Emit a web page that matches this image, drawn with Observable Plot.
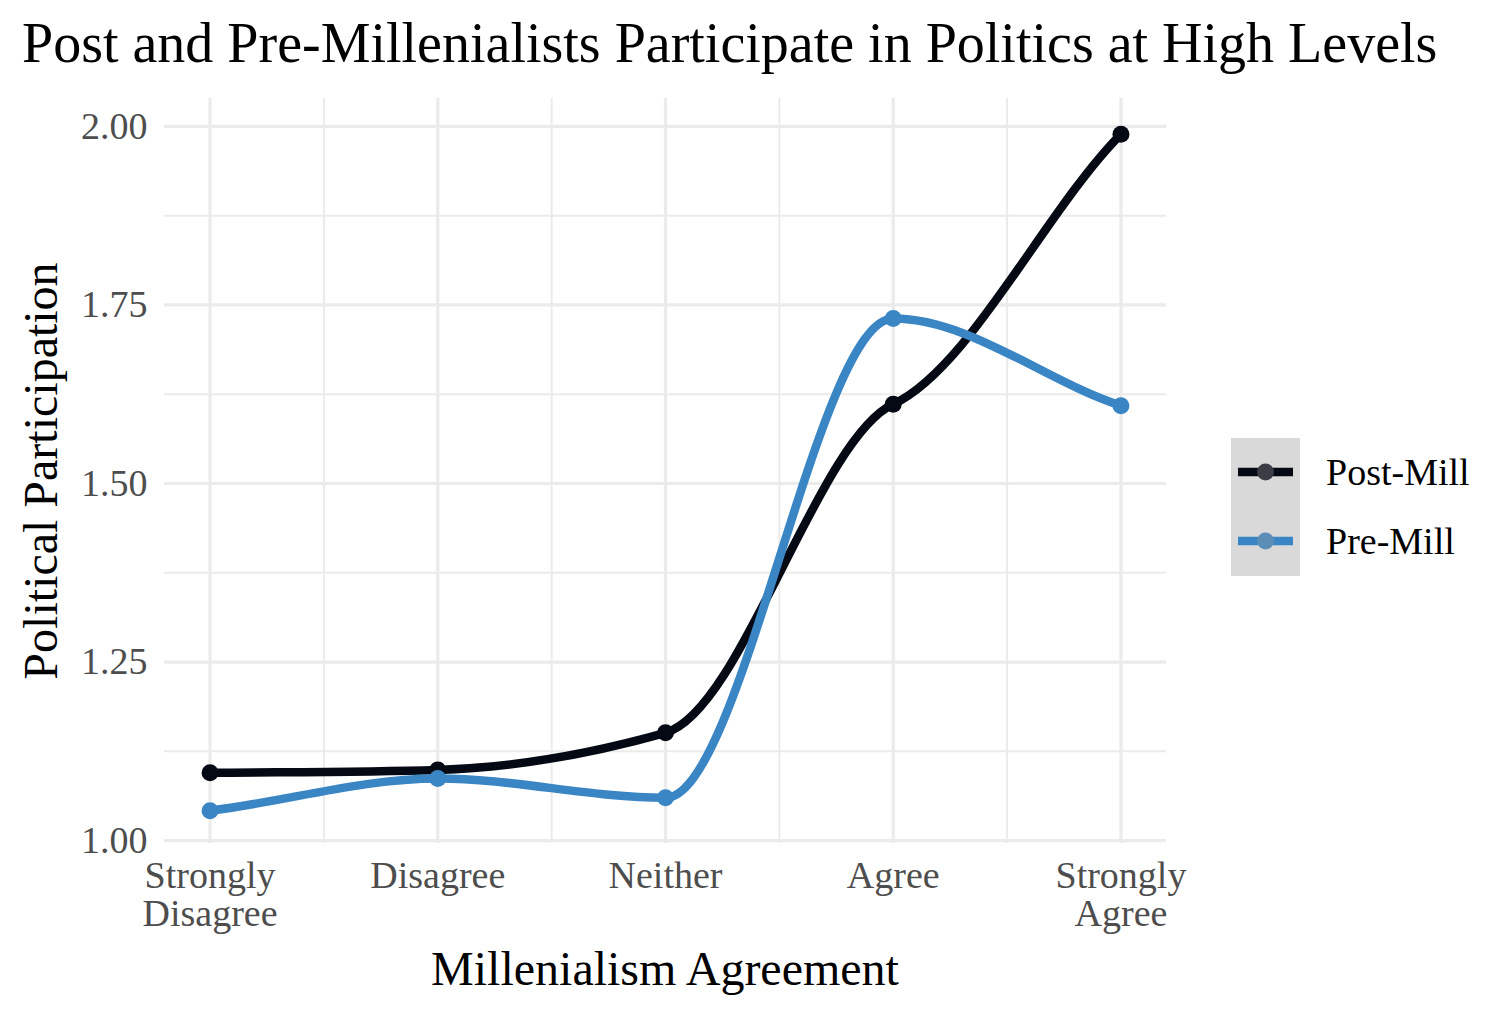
<!DOCTYPE html>
<html><head><meta charset="utf-8">
<script src="https://cdn.jsdelivr.net/npm/d3@7"></script>
<script src="https://cdn.jsdelivr.net/npm/@observablehq/plot@0.6"></script>
<style>
body{margin:0;background:#fff;font-family:"Liberation Serif",serif;}
#wrap{position:relative;width:1512px;height:1023px;overflow:hidden;}
#title{position:absolute;left:22px;top:15px;font-size:56px;line-height:56px;color:#000;white-space:nowrap;}
#chart{position:absolute;left:0;top:90px;}
#xtitle{position:absolute;left:164px;width:1002px;top:945px;text-align:center;font-size:48px;line-height:48px;color:#000;white-space:nowrap;}
#ytitle{position:absolute;left:-359px;width:800px;top:447px;text-align:center;font-size:48px;line-height:48px;color:#000;white-space:nowrap;transform:rotate(-90deg);}
#legend{position:absolute;left:1225px;top:430px;}
</style></head><body>
<div id="wrap">
<div id="title">Post and Pre-Millenialists Participate in Politics at High Levels</div>
<div id="chart"></div>
<div id="xtitle">Millenialism Agreement</div>
<div id="ytitle">Political Participation</div>
<div id="legend"></div>
</div>
<script>
const categories = ["Strongly\nDisagree", "Disagree", "Neither", "Agree", "Strongly\nAgree"];
const groups = ["Post-Mill", "Pre-Mill"];
const postMill = [1.095, 1.099, 1.151, 1.611, 1.989];
const preMill = [1.042, 1.087, 1.060, 1.731, 1.609];
const yTicks = [1.00, 1.25, 1.50, 1.75, 2.00];
const colors = ["#050914", "#3a86c5"];

const data = [];
categories.forEach((c, i) => {
  data.push({x: i + 1, y: postMill[i], group: groups[0]});
});
categories.forEach((c, i) => {
  data.push({x: i + 1, y: preMill[i], group: groups[1]});
});
const xPos = categories.map((c, i) => i + 1);
const xMinor = xPos.slice(0, -1).map(v => v + 0.5);
const yMinor = yTicks.slice(0, -1).map(v => v + 0.125);

// soft spline: cubic Hermite segments with damped tangents (x-spline look)
function softCurve(context) {
  const K = 0.35, END = 0.85;
  let xs, ys;
  return {
    areaStart() {}, areaEnd() {},
    lineStart() { xs = []; ys = []; },
    point(x, y) { xs.push(+x); ys.push(+y); },
    lineEnd() {
      const n = xs.length;
      if (!n) return;
      context.moveTo(xs[0], ys[0]);
      if (n === 1) return;
      const s = [];
      for (let i = 0; i < n - 1; i++) s.push((ys[i + 1] - ys[i]) / (xs[i + 1] - xs[i]));
      const m = new Array(n);
      m[0] = s[0] * END;
      m[n - 1] = s[n - 2] * END;
      for (let i = 1; i < n - 1; i++) {
        const h0 = xs[i] - xs[i - 1], h1 = xs[i + 1] - xs[i];
        m[i] = s[i - 1] * s[i] <= 0 ? 0 : K * (s[i - 1] * h1 + s[i] * h0) / (h0 + h1);
      }
      for (let i = 0; i < n - 1; i++) {
        const h = xs[i + 1] - xs[i];
        context.bezierCurveTo(xs[i] + h / 3, ys[i] + m[i] * h / 3,
                              xs[i + 1] - h / 3, ys[i + 1] - m[i + 1] * h / 3,
                              xs[i + 1], ys[i + 1]);
      }
    }
  };
}

const grid = "#ebebeb";
const chart = Plot.plot({
  width: 1512,
  height: 923,
  marginTop: 8,
  marginBottom: 170,
  marginLeft: 164,
  marginRight: 346,
  style: {fontFamily: "Liberation Serif, serif", fontSize: "38px", color: "#4d4d4d", background: "transparent"},
  x: {type: "linear", domain: [0.8, 5.2]},
  y: {domain: [0.996, 2.039]},
  color: {domain: groups, range: colors},
  marks: [
    Plot.ruleX(xMinor, {stroke: grid, strokeWidth: 2}),
    Plot.ruleY(yMinor, {stroke: grid, strokeWidth: 2}),
    Plot.ruleX(xPos, {stroke: grid, strokeWidth: 3.2}),
    Plot.ruleY(yTicks, {stroke: grid, strokeWidth: 3.2}),
    Plot.axisX(xPos, {tickSize: 0, tickPadding: 18, tickFormat: d => categories[d - 1], label: null, lineHeight: 1.0, fill: "#4d4d4d"}),
    Plot.axisY(yTicks, {tickSize: 0, tickPadding: 17, tickFormat: d => d.toFixed(2), label: null, fill: "#4d4d4d"}),
    Plot.line(data, {x: "x", y: "y", z: "group", stroke: "group", strokeWidth: 8.5, curve: softCurve}),
    Plot.dot(data, {x: "x", y: "y", fill: "group", r: 8.5})
  ]
});
document.getElementById("chart").appendChild(chart);

// legend
const lg = d3.select("#legend").append("svg").attr("width", 287).attr("height", 160)
  .style("font-family", "Liberation Serif, serif");
lg.append("rect").attr("x", 6).attr("y", 8).attr("width", 69).attr("height", 138).attr("fill", "#d9d9d9");
groups.forEach((g, i) => {
  const cy = 42 + i * 69;
  lg.append("line").attr("x1", 13).attr("x2", 68).attr("y1", cy).attr("y2", cy)
    .attr("stroke", colors[i]).attr("stroke-width", 8.5);
  lg.append("circle").attr("cx", 40.5).attr("cy", cy).attr("r", 8.5)
    .attr("fill", i === 0 ? "#3c3d44" : "#5b8db6");
  lg.append("text").attr("x", 101).attr("y", cy).attr("dy", "0.35em")
    .attr("font-size", 38).attr("fill", "#000").text(g);
});
</script>
</body></html>
